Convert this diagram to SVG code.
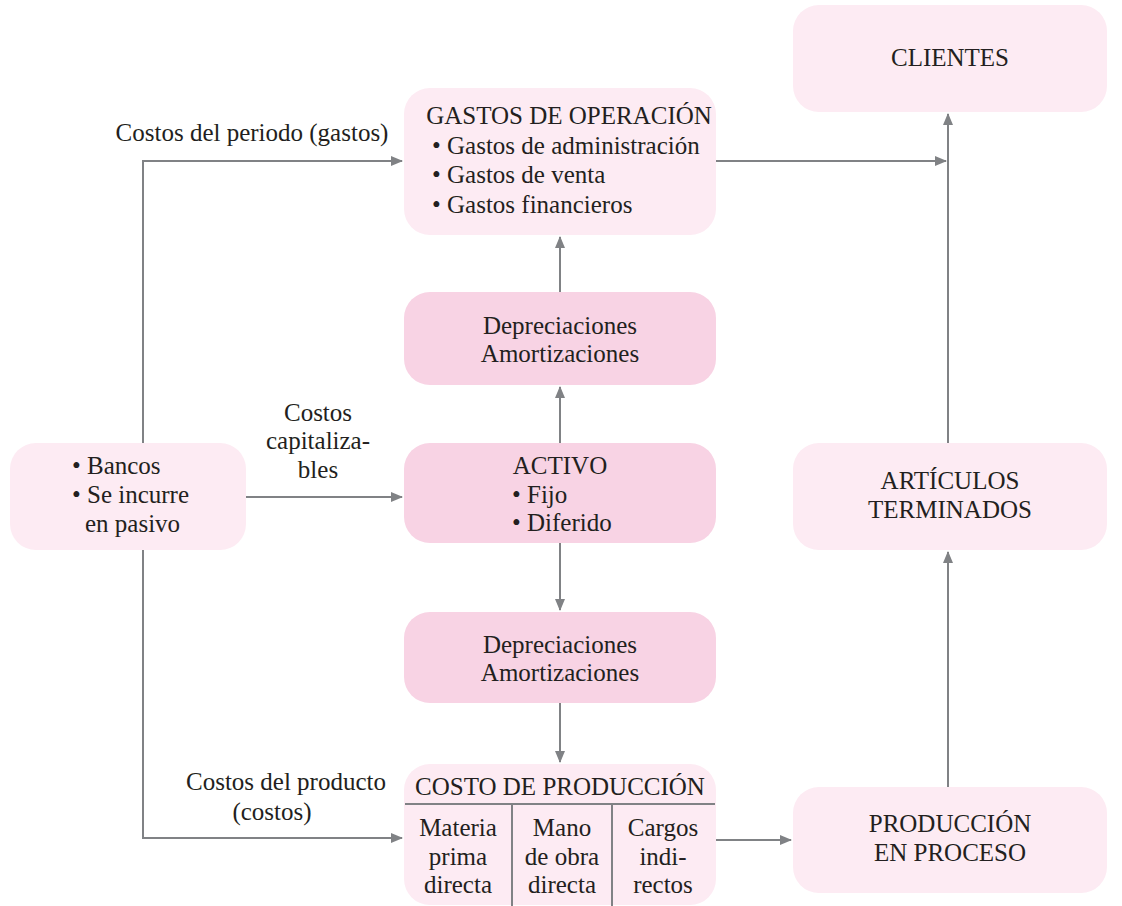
<svg xmlns="http://www.w3.org/2000/svg" width="1122" height="906" viewBox="0 0 1122 906">
<style>
.l{fill:#fdebf3}
.d{fill:#f8d3e4}
text{font-family:"Liberation Serif","Times New Roman",serif;font-size:25px;fill:#231f20}
.c{text-anchor:middle}
.ln{stroke:#808285;stroke-width:2;fill:none}
</style>
<defs>
<marker id="a" markerWidth="12" markerHeight="10" refX="11" refY="5" orient="auto" markerUnits="userSpaceOnUse">
<path d="M0,0 L12,5 L0,10 Z" fill="#808285"/>
</marker>
</defs>
<rect width="1122" height="906" fill="#fff"/>
<g id="connectors">
<path class="ln" d="M143,443 V161 H402" marker-end="url(#a)"/>
<path class="ln" d="M246,497 H402" marker-end="url(#a)"/>
<path class="ln" d="M143,550 V838 H402" marker-end="url(#a)"/>
<path class="ln" d="M560,443 V387" marker-end="url(#a)"/>
<path class="ln" d="M560,292 V237" marker-end="url(#a)"/>
<path class="ln" d="M560,543 V610" marker-end="url(#a)"/>
<path class="ln" d="M560,703 V762" marker-end="url(#a)"/>
<path class="ln" d="M716,161 H946" marker-end="url(#a)"/>
<path class="ln" d="M716,840 H791" marker-end="url(#a)"/>
<path class="ln" d="M948,787 V552" marker-end="url(#a)"/>
<path class="ln" d="M948,443 V114" marker-end="url(#a)"/>
<text class="c" x="252" y="141">Costos del periodo (gastos)</text>
<text class="c" x="318" y="421">Costos</text>
<text class="c" x="318" y="449">capitaliza-</text>
<text class="c" x="318" y="478">bles</text>
<text class="c" x="286" y="790">Costos del producto</text>
<text class="c" x="272" y="820">(costos)</text>
</g>
<g id="clientes">
<rect class="l" x="793" y="5" width="314" height="107" rx="26"/>
<text class="c" x="950" y="66">CLIENTES</text>
</g>
<g id="gastos">
<rect class="l" x="404" y="88" width="312" height="147" rx="26"/>
<text class="c" x="569" y="124">GASTOS DE OPERACIÓN</text>
<text x="432" y="154">• Gastos de administración</text>
<text x="432" y="183">• Gastos de venta</text>
<text x="432" y="213">• Gastos financieros</text>
</g>
<g id="dep1">
<rect class="d" x="404" y="292" width="312" height="93" rx="26"/>
<text class="c" x="560" y="334">Depreciaciones</text>
<text class="c" x="560" y="362">Amortizaciones</text>
</g>
<g id="activo">
<rect class="d" x="404" y="443" width="312" height="100" rx="26"/>
<text class="c" x="560" y="474">ACTIVO</text>
<text x="512" y="503">• Fijo</text>
<text x="512" y="531">• Diferido</text>
</g>
<g id="bancos">
<rect class="l" x="10" y="443" width="236" height="107" rx="26"/>
<text x="72" y="474">• Bancos</text>
<text x="72" y="503">• Se incurre</text>
<text x="85" y="532">en pasivo</text>
</g>
<g id="dep2">
<rect class="d" x="404" y="612" width="312" height="91" rx="26"/>
<text class="c" x="560" y="653">Depreciaciones</text>
<text class="c" x="560" y="681">Amortizaciones</text>
</g>
<g id="costo">
<rect class="l" x="404" y="764" width="312" height="141" rx="26"/>
<path class="ln" d="M405,804 H715 M512,804 V906 M612,804 V906"/>
<text class="c" x="560" y="795">COSTO DE PRODUCCIÓN</text>
<text class="c" x="458" y="836">Materia</text>
<text class="c" x="458" y="865">prima</text>
<text class="c" x="458" y="893">directa</text>
<text class="c" x="562" y="836">Mano</text>
<text class="c" x="562" y="865">de obra</text>
<text class="c" x="562" y="893">directa</text>
<text class="c" x="663" y="836">Cargos</text>
<text class="c" x="663" y="865">indi-</text>
<text class="c" x="663" y="893">rectos</text>
</g>
<g id="articulos">
<rect class="l" x="793" y="443" width="314" height="107" rx="26"/>
<text class="c" x="950" y="489">ARTÍCULOS</text>
<text class="c" x="950" y="518">TERMINADOS</text>
</g>
<g id="produccion">
<rect class="l" x="793" y="787" width="314" height="106" rx="26"/>
<text class="c" x="950" y="832">PRODUCCIÓN</text>
<text class="c" x="950" y="861">EN PROCESO</text>
</g>
</svg>
